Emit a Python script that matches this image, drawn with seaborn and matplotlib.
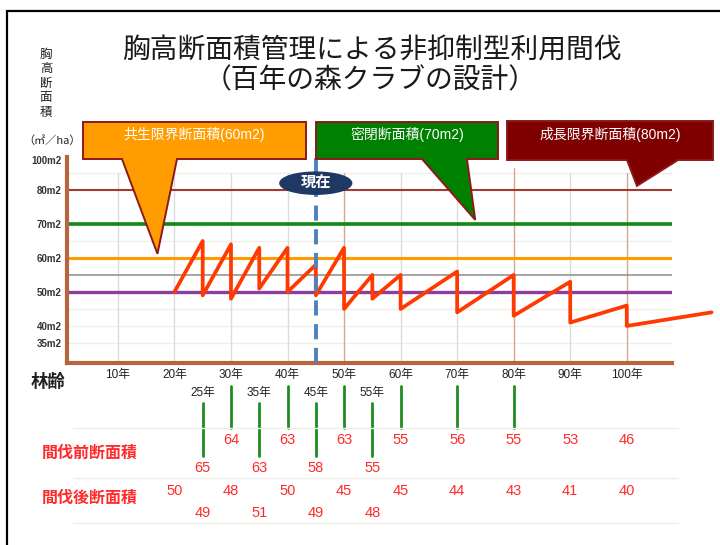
import matplotlib
matplotlib.use("Agg")
import matplotlib.pyplot as plt
import matplotlib.transforms as mtransforms
from matplotlib.patches import Polygon, Ellipse, Rectangle
from matplotlib.lines import Line2D
import pandas as pd
import seaborn as sns

# ---- data -----------------------------------------------------------------
# stand age (years) and basal area (m2/ha) before / after each thinning
start_age = 20
start_area = 50
thin_ages = [25, 30, 35, 40, 45, 50, 55, 60, 70, 80, 90, 100]
before_thin = [65, 64, 63, 63, 58, 63, 55, 55, 56, 55, 53, 46]
after_thin = [49, 48, 51, 50, 49, 45, 48, 45, 44, 43, 41, 40]
end_age = 115
end_area = 44

# ages marked by a thinning stroke under the age axis
marked_ages = [25, 30, 35, 40, 45, 50, 55, 60, 70, 80]
current_age = 45

# reference basal-area levels
levels = [80, 70, 60, 55, 50]
level_colors = ["#A33A32", "#0E8A12", "#FF9A00", "#8C8C8C", "#8E3D9E"]
level_widths = [1.5, 2.6, 2.2, 1.1, 2.4]

age_ticks = [10, 20, 30, 40, 50, 60, 70, 80, 90, 100]
area_ticks = [35, 40, 50, 60, 70, 80]
faint_levels = [35, 40, 45, 65, 85]

callout_texts = ["共生限界断面積(60m2)", "密閉断面積(70m2)", "成長限界断面積(80m2)"]
callout_levels = [60, 70, 80]
callout_ages = [17, 73.2, 101.8]
callout_colors = ["#FF9C00", "#008000", "#800000"]

# sawtooth path: growth up to each thinning, then the drop
ages = [start_age]
areas = [start_area]
for a, b, c in zip(thin_ages, before_thin, after_thin):
    ages += [a, a]
    areas += [b, c]
ages.append(end_age)
areas.append(end_area)
df = pd.DataFrame({"age": ages, "area": areas})

# ---- figure ----------------------------------------------------------------
sns.set_theme(style="white")
plt.rcParams["font.family"] = ["Liberation Sans", "Noto Sans CJK JP",
                               "DejaVu Sans"]
CJK = ["Noto Sans CJK JP", "DejaVu Sans"]

W, H = 720, 545
fig = plt.figure(figsize=(W / 100, H / 100), dpi=100)


def P(x, y):
    """pixel position (from top-left) -> figure fraction"""
    return (x / W, 1 - y / H)


ax = fig.add_axes([67 / W, 1 - 363 / H, (672 - 67) / W, (363 - 157) / H])
ax.set_xlim(1, 108)
ax.set_ylim(29.1, 89.7)

# light background grid
for v in faint_levels:
    ax.axhline(v, color="#EFEFE8", lw=1, zorder=0)
for a in age_ticks:
    tan = a in (50, 80, 100)
    ax.axvline(a, ymax=0.945 if a == 80 else 0.92,
               color="#D9A688" if tan else "#DCDCDC", lw=1, zorder=0)

for v, c, w in zip(levels, level_colors, level_widths):
    ax.axhline(v, color=c, lw=w, zorder=2)

sns.lineplot(data=df, x="age", y="area", sort=False, estimator=None,
             color="#FF3A00", lw=2.7, ax=ax, zorder=4, clip_on=False)

# present age marker
ax.axvline(current_age, color="#4F81BD", lw=2.8, ls=(0, (3.9, 2.2)), zorder=5)
ax.add_patch(Ellipse((current_age, 82), 12.7, 6.5, color="#1F3864",
                     zorder=6, clip_on=False))
ax.text(current_age, 82, "現在", color="white", fontsize=11,
        fontweight="bold", ha="center", va="center", zorder=7, family=CJK)

# axes styling
for s in ("top", "right"):
    ax.spines[s].set_visible(False)
for s in ("left", "bottom"):
    ax.spines[s].set_color("#B8653F")
    ax.spines[s].set_linewidth(3)
ax.set_xticks(age_ticks)
ax.set_xticklabels([f"{a}年" for a in age_ticks], fontsize=8.5, color="#222222")
ax.set_yticks(area_ticks)
ax.set_yticklabels([f"{v}m2" for v in area_ticks], fontsize=7,
                   fontweight="bold", color="#333333")
ax.tick_params(axis="x", length=2.5, width=0.8, color="#999999", pad=2)
ax.tick_params(axis="y", length=0, pad=4)
ax.set_xlabel("")
ax.set_ylabel("")
fig.text(*P(62, 161), "100m2", fontsize=7, fontweight="bold", color="#333333",
         ha="right", va="center")

# callout boxes
boxes = [(83, 122, 306, 159), (316, 122, 498, 159), (507, 121, 713, 160)]
bases = [(122, 177), (422, 467), (627, 678)]
to_fig = fig.transFigure.inverted()
for box, base, lvl, age, col, txt in zip(boxes, bases, callout_levels,
                                         callout_ages, callout_colors,
                                         callout_texts):
    x0, y0, x1, y1 = box
    tip = to_fig.transform(ax.transData.transform((age, lvl + 1.2)))
    verts = [P(x0, y0), P(x1, y0), P(x1, y1), P(base[1], y1), tuple(tip),
             P(base[0], y1), P(x0, y1)]
    fig.add_artist(Polygon(verts, closed=True, transform=fig.transFigure,
                           facecolor=col, edgecolor="#8B1A1A", lw=1.4,
                           zorder=10))
    fig.text(*P((x0 + x1) / 2, 134), txt, color="white", fontsize=10,
             ha="center", va="center", zorder=11)

# titles and axis captions
fig.text(*P(372, 50), "胸高断面積管理による非抑制型利用間伐", fontsize=20,
         ha="center", va="center", color="#1A1A1A", family=CJK)
fig.text(*P(370, 80), "（百年の森クラブの設計）", fontsize=20,
         ha="center", va="center", color="#1A1A1A", family=CJK)
fig.text(*P(46, 83), "\n".join("胸高断面積"), fontsize=9, ha="center",
         va="center", linespacing=1.15, color="#222222", family=CJK)
fig.text(*P(52, 141), "（㎡／ha）", fontsize=8, ha="center", va="center",
         color="#222222", family=CJK)
fig.text(*P(48, 382), "林齢", fontsize=12.5, fontweight="bold",
         ha="center", va="center", color="#222222", family=CJK)

# thinning table under the age axis
bt = mtransforms.blended_transform_factory(ax.transData, fig.transFigure)
for a in marked_ages:
    upper = a % 10 == 0
    top = 386 if upper else 403
    bottom = 428 if upper else 456
    fig.add_artist(Line2D([a, a], [P(0, top)[1], P(0, bottom)[1]],
                          transform=bt, color="#1E8C1E", lw=2))
    if not upper:
        fig.text(a, P(0, 393)[1], f"{a}年", transform=bt, fontsize=8.5,
                 ha="center", va="center", color="#222222")

for y in (428, 478, 523):
    fig.add_artist(Line2D([73 / W, 678 / W], [P(0, y)[1]] * 2,
                          transform=fig.transFigure, color="#EEEEE4", lw=1))

red = "#FF2A2A"
for a, b, c in zip(thin_ages, before_thin, after_thin):
    upper = a % 10 == 0
    fig.text(a, P(0, 440 if upper else 468)[1], str(b), transform=bt,
             fontsize=10.5, color=red, ha="center", va="center")
    fig.text(a, P(0, 491 if upper else 513)[1], str(c), transform=bt,
             fontsize=10.5, color=red, ha="center", va="center")
fig.text(start_age, P(0, 491)[1], str(start_area), transform=bt,
         fontsize=10.5, color=red, ha="center", va="center")

fig.text(*P(90, 453), "間伐前断面積", fontsize=11.5, fontweight="bold",
         color=red, ha="center", va="center", family=CJK)
fig.text(*P(90, 498), "間伐後断面積", fontsize=11.5, fontweight="bold",
         color=red, ha="center", va="center", family=CJK)

# outer frame
fig.add_artist(Rectangle(P(7, 600), 900 / W, 589 / H, transform=fig.transFigure,
                         fill=False, edgecolor="black", lw=1.6, zorder=20))

fig.savefig("out.png", dpi=100)
